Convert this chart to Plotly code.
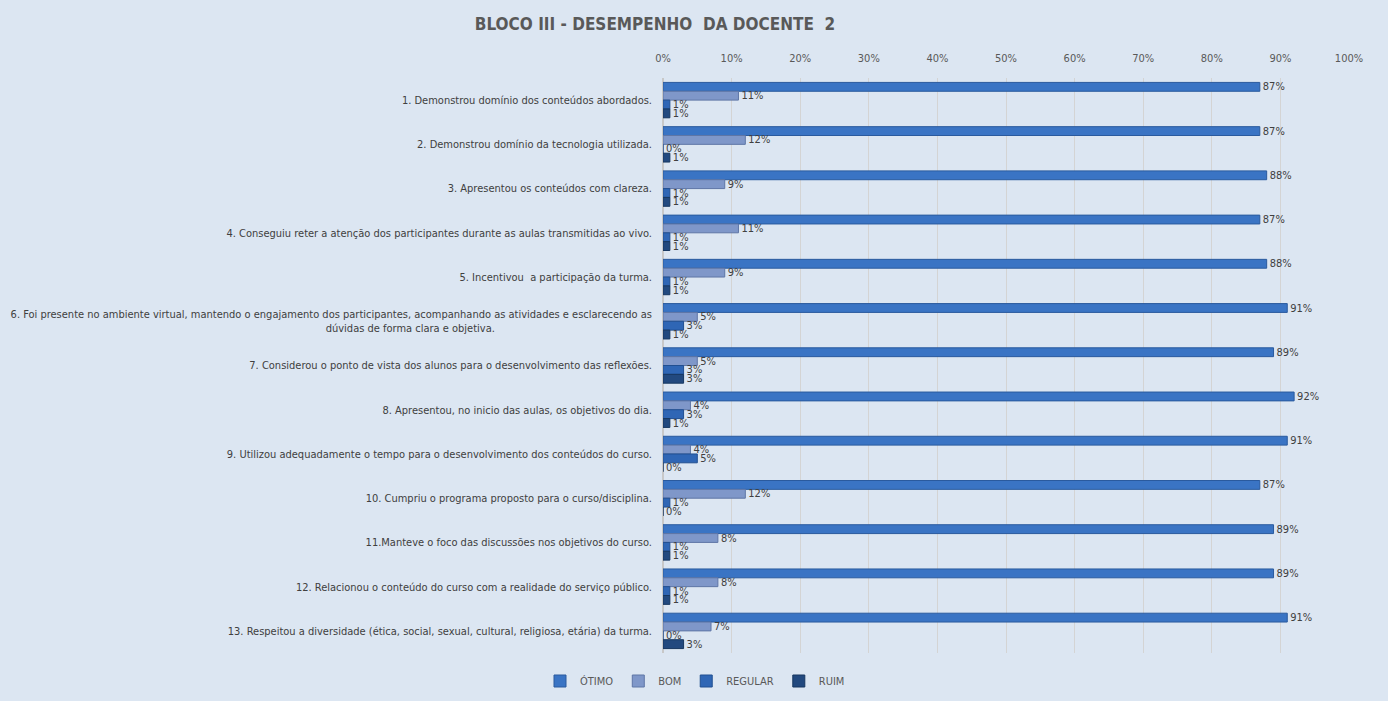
import plotly.graph_objects as go

categories = [
    "1. Demonstrou domínio dos conteúdos abordados.",
    "2. Demonstrou domínio da tecnologia utilizada.",
    "3. Apresentou os conteúdos com clareza.",
    "4. Conseguiu reter a atenção dos participantes durante as aulas transmitidas ao vivo.",
    "5. Incentivou  a participação da turma.",
    "6. Foi presente no ambiente virtual, mantendo o engajamento dos participantes, acompanhando as atividades e esclarecendo as<br>dúvidas de forma clara e objetiva.                                                  ",
    "7. Considerou o ponto de vista dos alunos para o desenvolvimento das reflexões.",
    "8. Apresentou, no inicio das aulas, os objetivos do dia.",
    "9. Utilizou adequadamente o tempo para o desenvolvimento dos conteúdos do curso.",
    "10. Cumpriu o programa proposto para o curso/disciplina.",
    "11.Manteve o foco das discussões nos objetivos do curso.",
    "12. Relacionou o conteúdo do curso com a realidade do serviço público.",
    "13. Respeitou a diversidade (ética, social, sexual, cultural, religiosa, etária) da turma.",
]

otimo = [87, 87, 88, 87, 88, 91, 89, 92, 91, 87, 89, 89, 91]
bom = [11, 12, 9, 11, 9, 5, 5, 4, 4, 12, 8, 8, 7]
regular = [1, 0, 1, 1, 1, 3, 3, 3, 5, 1, 1, 1, 0]
ruim = [1, 1, 1, 1, 1, 1, 3, 1, 0, 0, 1, 1, 3]

series_names = ["ÓTIMO", "BOM", "REGULAR", "RUIM"]
series_values = [otimo, bom, regular, ruim]
colors = ["#3A74C4", "#7F97C9", "#2F66B5", "#22497F"]
line_colors = ["#2A5A9E", "#5F76A6", "#214F91", "#173760"]

tick_vals = list(range(0, 101, 10))
tick_text = [f"{v}%" for v in tick_vals]

BG = "#DCE6F2"
FONT = "Liberation Sans Narrow, DejaVu Sans Condensed, Arial Narrow, sans-serif"

W, H = 1388, 701
L, R, T, B = 663, 39, 78, 48
plot_w = W - L - R
plot_h = H - T - B

fig = go.Figure()
for name, vals, c, lc in zip(series_names, series_values, colors, line_colors):
    fig.add_trace(go.Bar(
        y=categories,
        x=vals,
        name=name,
        orientation="h",
        marker=dict(color=c, line=dict(color=lc, width=1)),
        text=[f"{v}%" for v in vals],
        textposition="outside",
        constraintext="none",
        textfont=dict(size=11, color="#404040", family=FONT),
        cliponaxis=False,
    ))

fig.update_layout(
    width=W,
    height=H,
    paper_bgcolor=BG,
    plot_bgcolor=BG,
    barmode="group",
    bargap=0.2,
    bargroupgap=0.0,
    margin=dict(l=L, r=R, t=T, b=B, autoexpand=False),
    title=dict(
        text="BLOCO III - DESEMPENHO  DA DOCENTE  2",
        x=655 / W,
        xanchor="center",
        y=1 - 24 / H,
        yanchor="middle",
        font=dict(size=17, color="#595959", family=FONT, weight="bold"),
    ),
    legend=dict(
        orientation="h",
        x=(695 - L) / plot_w,
        xanchor="center",
        y=(H - B - 681) / plot_h,
        yanchor="middle",
        font=dict(size=11, color="#595959", family=FONT),
        traceorder="normal",
        itemwidth=30,
        bgcolor="rgba(0,0,0,0)",
    ),
    font=dict(family=FONT, color="#404040"),
    showlegend=True,
)

fig.update_xaxes(
    side="top",
    range=[0, 100],
    tickvals=tick_vals,
    ticktext=tick_text,
    tickfont=dict(size=11, color="#595959", family=FONT),
    ticklabelstandoff=13,
    showgrid=True,
    gridcolor="#D4D4D4",
    gridwidth=1,
    zeroline=True,
    zerolinecolor="#C8C8C8",
    showline=False,
    fixedrange=True,
)
fig.update_yaxes(
    autorange="reversed",
    tickfont=dict(size=11, color="#404040", family=FONT),
    showgrid=False,
    ticklabelstandoff=10,
    fixedrange=True,
)

fig.write_html(
    "out.html",
    config={"displayModeBar": False},
    post_script="document.body.style.margin='0';document.body.style.overflow='hidden';",
)
